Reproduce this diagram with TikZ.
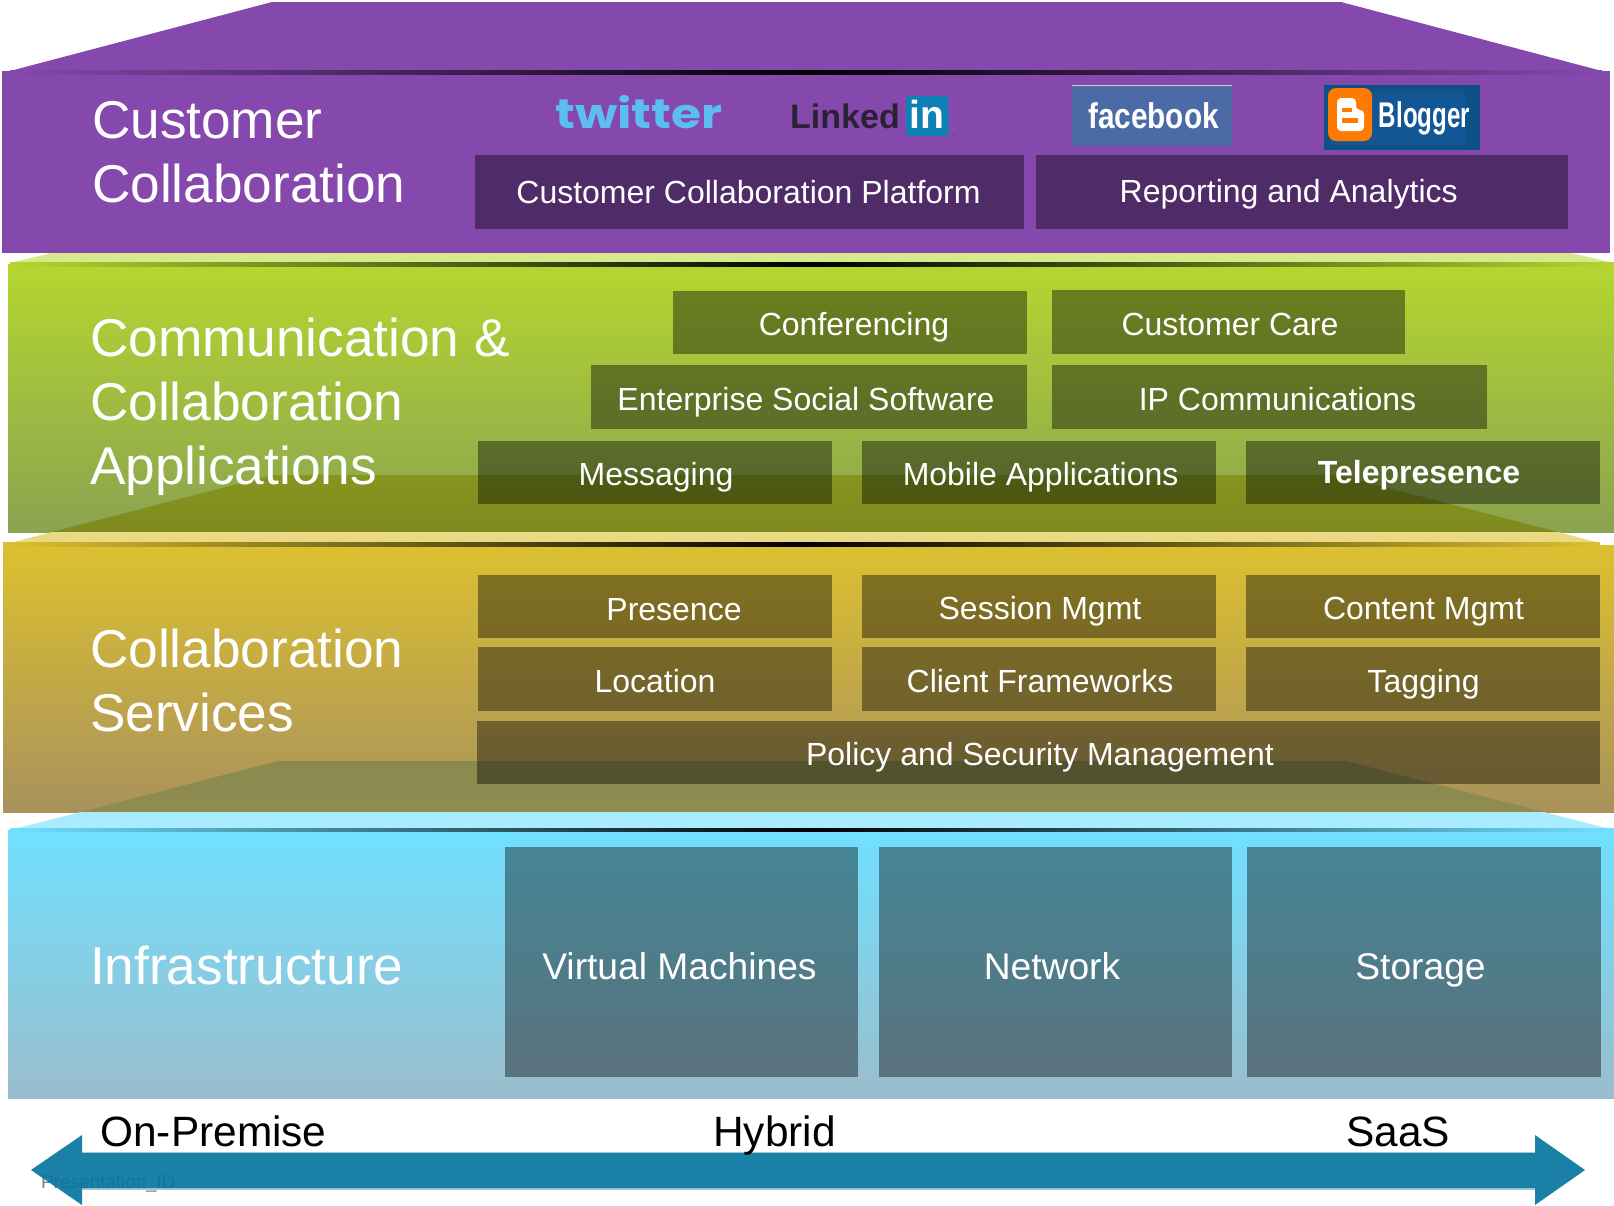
\documentclass[tikz,border=0pt]{standalone}
\usepackage{fontspec}
\usepackage{graphicx}
\setmainfont{Liberation Sans}
\newfontfamily\twitterfont{Poppins}[BoldFont={Poppins Bold}]
\usepackage{tikz}
\usetikzlibrary{positioning}
\definecolor{tierpurple}{HTML}{8548AD}
\definecolor{tiergreen}{HTML}{B5D630}
\definecolor{tiergreenlow}{HTML}{8AA350}
\definecolor{tieryellow}{HTML}{DCC030}
\definecolor{tieryellowlow}{HTML}{A9925C}
\definecolor{tierblue}{HTML}{70E0FF}
\definecolor{tierbluelow}{HTML}{9ABDCC}
\definecolor{arrowblue}{HTML}{06759E}
\definecolor{arrowrim}{HTML}{A5CBDA}
\definecolor{twitterblue}{HTML}{5CBEF0}
\definecolor{linkeddark}{HTML}{2B2233}
\definecolor{linkedblue}{HTML}{0E80B4}
\definecolor{facebookblue}{HTML}{4C6BA6}
\definecolor{bloggerblue}{HTML}{0E5088}
\definecolor{bloggerpanel}{HTML}{125696}
\definecolor{bloggerorange}{HTML}{FF7A00}
\tikzset{
	tagbox/.style={fill=black,fill opacity=0.4},
	heading/.style={text=white,align=left,anchor=west,font=\fontsize{53.2}{64}\selectfont},
	boxlabel/.style={text=white,anchor=base,font=\fontsize{32}{38}\selectfont},
	bigboxlabel/.style={boxlabel,font=\fontsize{37.2}{44}\selectfont},
	scalelabel/.style={text=black,anchor=base,font=\fontsize{42.4}{50}\selectfont},
	logotext/.style={text=white,anchor=base,inner sep=0pt,font=\bfseries\fontsize{34}{40}\selectfont}
}
\begin{document}
\begin{tikzpicture}[x=1pt,y=-1pt]
	\useasboundingbox (0,0) rectangle (1614,1205);

	\fill[tierpurple] (10,71) -- (272,2) -- (1341,2) -- (1602,71) -- cycle;
	\fill[tierpurple] (2,71) rectangle (1610,253);
	\shade[left color=tierpurple,right color=tierpurple,middle color=black] (10,70) rectangle (1602,74);

	\fill[tiergreen!55!white] (10,263) -- (51,253) -- (1571,253) -- (1614,263) -- cycle;
	\shade[top color=tiergreen,bottom color=tiergreenlow] (8,264) rectangle (1614,532);
	\shade[left color=tiergreen,right color=tiergreen,middle color=black] (10,262) rectangle (1614,266);
	\shade[top color={rgb,255:red,133;green,150;blue,31},bottom color={rgb,255:red,127;green,138;blue,30}] (52,532) -- (272,475) -- (1338,475) -- (1558,532) -- cycle;

	\fill[tieryellow!60!white] (10,543) -- (52,532) -- (1558,532) -- (1600,543) -- cycle;
	\shade[top color=tieryellow,bottom color=tieryellowlow] (3,545) rectangle (1614,812);
	\shade[left color=tieryellow,right color=tieryellow,middle color=black] (3,542) rectangle (1600,546);
	\shade[top color={rgb,255:red,138;green,138;blue,78},bottom color={rgb,255:red,144;green,140;blue,82}] (81,812) -- (278,761) -- (1346,761) -- (1544,812) -- cycle;

	\fill[tierblue!60!white] (10,830) -- (81,812) -- (1544,812) -- (1614,830) -- cycle;
	\shade[top color=tierblue,bottom color=tierbluelow] (8,830) rectangle (1614,1098);
	\shade[left color=tierblue,right color=tierblue,middle color=black] (10,828) rectangle (1614,831);

	\foreach \nm/\xa/\ya/\xb/\yb/\tx/\ty/\txt in {
		platform/475/155/1024/229/748.5/203/Customer Collaboration Platform,
		reporting/1036/155/1568/229/1288.7/202/Reporting and Analytics,
		conferencing/673/291/1027/354/854/335.5/Conferencing,
		care/1052/290/1405/354/1230/335.5/Customer Care,
		social/591/365/1027/429/806/410/Enterprise Social Software,
		ipcomm/1052/365/1487/429/1277.5/410/IP Communications,
		messaging/478/441/832/504/656/485/Messaging,
		mobile/862/441/1216/504/1040.6/485/Mobile Applications,
		presence/478/575/832/638/674/620.5/Presence,
		session/862/575/1216/638/1040/619/Session Mgmt,
		content/1246/575/1600/638/1423.5/619/Content Mgmt,
		location/478/647/832/711/655/692/Location,
		client/862/647/1216/711/1040/692/Client Frameworks,
		tagging/1246/647/1600/711/1423.5/692/Tagging,
		policy/477/721/1600/784/1040/765/Policy and Security Management}
	{
		\fill[tagbox] (\xa,\ya) rectangle (\xb,\yb);
		\node[boxlabel] (\nm) at (\tx,\ty) {\txt};
	}

	\fill[tagbox] (1246,441) rectangle (1600,504);
	\node[boxlabel] (telepresence) at (1419,483) {\textbf{Telepresence}};

	\foreach \nm/\xa/\xb/\tx/\txt in {
		machines/505/858/679.5/Virtual Machines,
		network/879/1232/1052/Network,
		storage/1247/1601/1420.5/Storage}
	{
		\fill[tagbox] (\xa,847) rectangle (\xb,1077);
		\node[bigboxlabel] (\nm) at (\tx,979) {\txt};
	}

	\node[heading] (customer) at (88.5,152) {Customer\\Collaboration};
	\node[heading] (communication) at (86.5,407) {Communication \&\\Collaboration\\Applications};
	\node[heading] (services) at (86.5,680) {Collaboration\\Services};
	\node[heading] (infrastructure) at (86.5,965.5) {Infrastructure};

	\node[logotext,text=twitterblue] (twitter) at (639,128) {\resizebox{167pt}{33pt}{\twitterfont\bfseries twitter}};

	\node[logotext,text=linkeddark] (linked) at (845,128) {Linked};
	\fill[linkedblue,rounded corners=3pt] (906,96) rectangle (948.5,136);
	\node[logotext] (linkedin) at (927,128) {\scalebox{1.15}{in}};
	\fill[gray] (954,129) circle (0.8);

	\fill[facebookblue] (1071.5,85) rectangle (1232,146);
	\draw[gray!40,line width=1pt] (1071.5,85) -- (1232,85);
	\node[logotext] (facebook) at (1153.5,128) {\scalebox{0.875}[1.05]{facebook}};

	\fill[bloggerblue] (1324,85) rectangle (1480,150);
	\fill[bloggerpanel] (1330,92) rectangle (1465,145);
	\fill[bloggerorange,rounded corners=8pt] (1328,88) rectangle (1372,141);
	\fill[white,rounded corners=4pt] (1337,98) -- (1356,98) -- (1356,110) -- (1364,110) -- (1364,131) -- (1337,131) -- cycle;
	\fill[bloggerorange] (1342,108) rectangle (1352,112);
	\fill[bloggerorange] (1342,118) rectangle (1358,123);
	\node[logotext] (blogger) at (1424.5,127) {\scalebox{0.71}[1.05]{Blogger}};

	\fill[arrowrim] (82,1151.5) rectangle (1535,1153);
	\fill[arrowrim] (82,1188) rectangle (1535,1189.5);
	\node[gray,anchor=base west,inner sep=0pt,font=\fontsize{18.7}{22}\selectfont] (slideid) at (41,1188) {Presentation\_ID};
	\fill[arrowblue,fill opacity=0.92] (31,1170) -- (82,1135) -- (82,1153) -- (1535,1153) -- (1535,1135) -- (1585,1170) -- (1535,1205) -- (1535,1188) -- (82,1188) -- (82,1205) -- cycle;

	\node[scalelabel] (onpremise) at (213.5,1146) {On-Premise};
	\node[scalelabel] (hybrid) at (774.5,1146) {Hybrid};
	\node[scalelabel] (saas) at (1398,1146) {SaaS};
\end{tikzpicture}
\end{document}
